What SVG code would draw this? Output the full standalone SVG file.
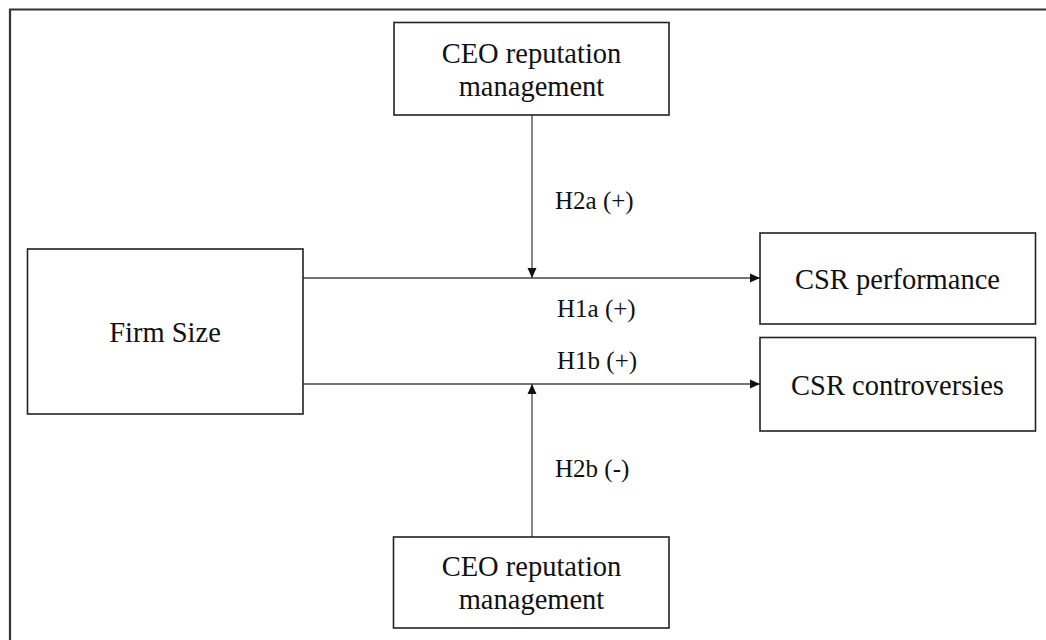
<svg xmlns="http://www.w3.org/2000/svg" width="1046" height="640" viewBox="0 0 1046 640">
  <style>
    .box { fill: #fff; stroke: #222; stroke-width: 1.6; }
    .frame { fill: none; stroke: #333; stroke-width: 2.2; }
    .node-text { font-family: "Liberation Serif", "Times New Roman", serif; font-size: 28.5px; fill: #111; text-anchor: middle; }
    .label { font-family: "Liberation Serif", "Times New Roman", serif; font-size: 25px; fill: #111; }
    .conn { stroke: #444; stroke-width: 1.3; fill: none; }
  </style>
  <defs>
    <marker id="arrow" viewBox="0 0 10 10" refX="10" refY="5" markerWidth="10" markerHeight="10" markerUnits="userSpaceOnUse" orient="auto">
      <path d="M0,0.5 L10,5 L0,9.5 Z" fill="#111"/>
    </marker>
  </defs>

  <rect width="1046" height="640" fill="#fff"/>

  <!-- outer frame (open to the right and bottom) -->
  <path class="frame" d="M10,640 L10,9.5 L1046,9.5"/>

  <!-- connectors -->
  <g id="connectors">
    <line class="conn" x1="303" y1="278" x2="760" y2="278" marker-end="url(#arrow)"/>
    <line class="conn" x1="303" y1="384" x2="760" y2="384" marker-end="url(#arrow)"/>
    <line class="conn" x1="532" y1="115" x2="532" y2="278" marker-end="url(#arrow)"/>
    <line class="conn" x1="532" y1="537" x2="532" y2="384" marker-end="url(#arrow)"/>
    <text class="label" x="555" y="209">H2a (+)</text>
    <text class="label" x="557" y="317">H1a (+)</text>
    <text class="label" x="557" y="369">H1b (+)</text>
    <text class="label" x="555" y="477">H2b (-)</text>
  </g>

  <g id="ceo-top">
    <rect class="box" x="394" y="22.5" width="275" height="92.5"/>
    <text class="node-text" x="531.5" y="63">CEO reputation</text>
    <text class="node-text" x="531.5" y="96">management</text>
  </g>

  <g id="firm-size">
    <rect class="box" x="27.5" y="249" width="275.5" height="165"/>
    <text class="node-text" x="165" y="342">Firm Size</text>
  </g>

  <g id="csr-performance">
    <rect class="box" x="760" y="233" width="275.5" height="91"/>
    <text class="node-text" x="897.5" y="289">CSR performance</text>
  </g>

  <g id="csr-controversies">
    <rect class="box" x="760" y="337.5" width="275.5" height="93.5"/>
    <text class="node-text" x="897.5" y="395">CSR controversies</text>
  </g>

  <g id="ceo-bottom">
    <rect class="box" x="393.5" y="537" width="275.5" height="91"/>
    <text class="node-text" x="531.5" y="576">CEO reputation</text>
    <text class="node-text" x="531.5" y="609">management</text>
  </g>
</svg>
